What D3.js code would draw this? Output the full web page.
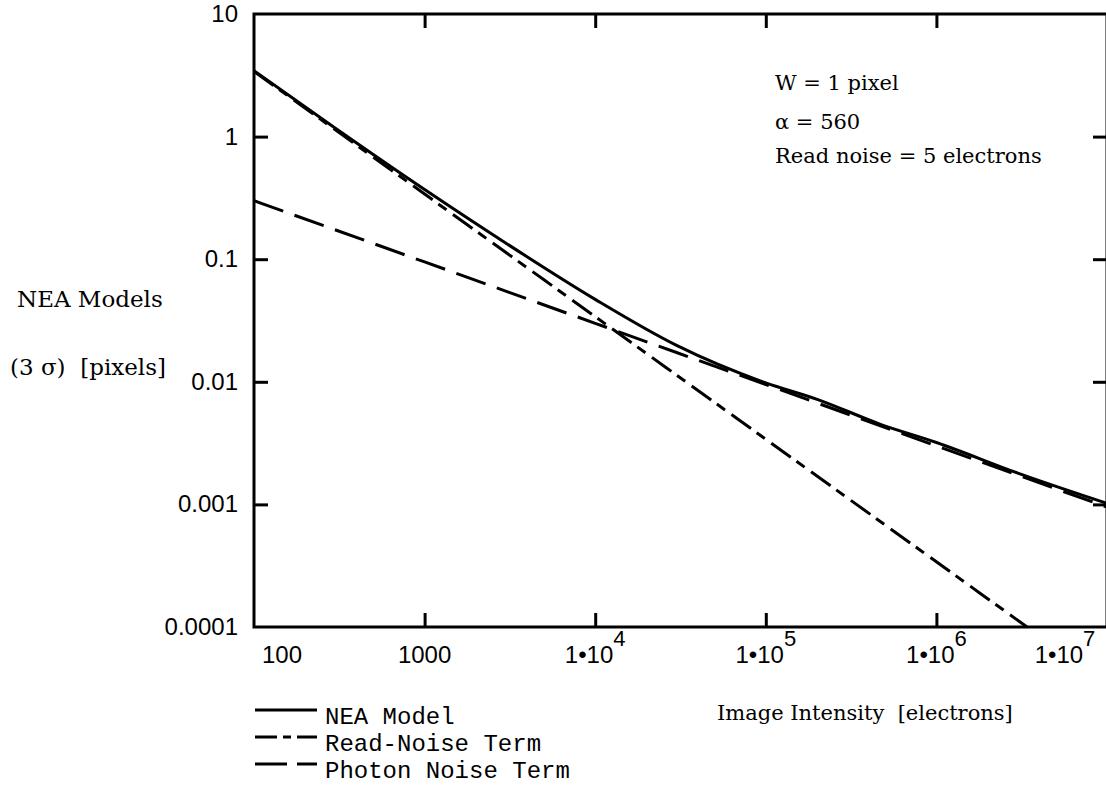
<!DOCTYPE html>
<html>
<head>
    <title>NEA Models</title>
    <script src="https://d3js.org/d3.v7.min.js"></script>
    <style>
        body { margin: 0; background: #fff; overflow: hidden; }
        .tick-label { font-family: 'Liberation Sans', Arial, sans-serif; font-size: 24px; fill: #000; }
        .serif { font-family: 'DejaVu Serif', serif; font-size: 23px; fill: #000; white-space: pre; }
        .mono { font-family: 'Liberation Mono', monospace; font-size: 24px; fill: #000; white-space: pre; }
        .curve { fill: none; stroke: #000; stroke-width: 3px; }
    </style>
</head>
<body>
<svg width="1106" height="787"></svg>
<script>
// DATA ========================================================
const xTicks = [100, 1000, 1e4, 1e5, 1e6, 1e7];
const xTickLabels = ["100", "1000", "1•10|4", "1•10|5", "1•10|6", "1•10|7"];
const yTicks = [10, 1, 0.1, 0.01, 0.001, 0.0001];
const yTickLabels = ["10", "1", "0.1", "0.01", "0.001", "0.0001"];

// values: [intensity, NEA]
const neaModel = [
    [100, 3.45], [300, 1.17], [1000, 0.37], [3000, 0.135], [1e4, 0.047],
    [3e4, 0.0198], [1e5, 0.0098], [2e5, 0.0072], [4.7e5, 0.0045],
    [1e6, 0.0032], [3e6, 0.0018], [1e7, 0.00102]
];
const readNoise = [
    [100, 3.4], [1000, 0.34], [1e4, 0.034], [1e5, 0.0034], [1e6, 0.00034], [3.4e6, 0.0001]
];
const photonNoise = [
    [100, 0.3], [1000, 0.095], [1e4, 0.03], [1e5, 0.0095], [1e6, 0.003], [1e7, 0.00095]
];

const legendItems = ["NEA Model", "Read-Noise Term", "Photon Noise Term"];
const dashes = ["none", "24,7,10,8", "31,12"];
const notes = ["W = 1 pixel", "α = 560", "Read noise = 5 electrons"];

// SCALES ======================================================
const svg = d3.select("svg");
const x = d3.scaleLog().domain([100, 1e7]).range([254, 1107]);
const y = d3.scaleLog().domain([0.0001, 10]).range([627, 14]);

// FRAME + TICKS ===============================================
svg.append("rect")
    .attr("x", x(100)).attr("y", y(10))
    .attr("width", x(1e7) - x(100)).attr("height", y(0.0001) - y(10))
    .attr("fill", "none").attr("stroke", "#000").attr("stroke-width", 3);

const inner = [1000, 1e4, 1e5, 1e6];
const yInner = [1, 0.1, 0.01, 0.001];
const tickAxis = (axis, tx, ty) => svg.append("g")
    .attr("transform", `translate(${tx},${ty})`)
    .call(axis)
    .call(g => g.select(".domain").remove())
    .call(g => g.selectAll("line").attr("stroke-width", 3))
    .call(g => g.selectAll("text").remove());

tickAxis(d3.axisBottom(x).tickValues(inner).tickSize(-14), 0, y(0.0001));
tickAxis(d3.axisTop(x).tickValues(inner).tickSize(-14), 0, y(10));
tickAxis(d3.axisLeft(y).tickValues(yInner).tickSize(-14), x(100), 0);
tickAxis(d3.axisRight(y).tickValues(yInner).tickSize(-14), x(1e7), 0);

// tick labels
svg.append("g").selectAll("text")
    .data(yTicks)
    .join("text")
    .attr("class", "tick-label")
    .attr("text-anchor", "end")
    .attr("x", x(100) - 16)
    .attr("y", d => y(d) + 8)
    .text((d, i) => yTickLabels[i]);

const xl = svg.append("g").selectAll("text")
    .data(xTicks)
    .join("text")
    .attr("class", "tick-label")
    .attr("text-anchor", "middle")
    .attr("x", (d, i) => x(d) + (i === 0 ? 28 : i === xTicks.length - 1 ? -42 : 0))
    .attr("y", y(0.0001) + 36);
xl.each(function(d, i) {
    const parts = xTickLabels[i].split("|");
    const t = d3.select(this);
    t.append("tspan").text(parts[0]);
    if (parts[1]) t.append("tspan").attr("dy", -17).attr("font-size", 22).text(parts[1]);
});

// CURVES ======================================================
const line = d3.line().x(d => x(d[0])).y(d => y(d[1])).curve(d3.curveMonotoneX);
[neaModel, readNoise, photonNoise].forEach((s, i) => {
    svg.append("path")
        .datum(s)
        .attr("class", "curve")
        .attr("stroke-dasharray", dashes[i])
        .attr("d", line);
});

// TEXT ========================================================
svg.append("text").attr("class", "serif").attr("x", 17).attr("y", 307).text("NEA Models");
svg.append("text").attr("class", "serif").attr("x", 10).attr("y", 375).text("(3 σ)  [pixels]");
svg.append("text").attr("class", "serif").style("font-size", "21px")
    .attr("x", 717).attr("y", 720).text("Image Intensity  [electrons]");

svg.append("g").selectAll("text")
    .data(notes)
    .join("text")
    .attr("class", "serif")
    .style("font-size", "21px")
    .attr("x", 775)
    .attr("y", (d, i) => [90, 129, 163][i])
    .text(d => d);

// LEGEND ======================================================
const lg = svg.append("g").selectAll("g")
    .data(legendItems)
    .join("g")
    .attr("transform", (d, i) => `translate(255,${724 + i * 27})`);
lg.append("line")
    .attr("x1", 0).attr("x2", 62).attr("y1", -14).attr("y2", -14)
    .attr("stroke", "#000").attr("stroke-width", 3)
    .attr("stroke-dasharray", (d, i) => ["none", "22,6,8,6", "32,10"][i]);
lg.append("text").attr("class", "mono").attr("x", 70).text(d => d);
</script>
</body>
</html>
